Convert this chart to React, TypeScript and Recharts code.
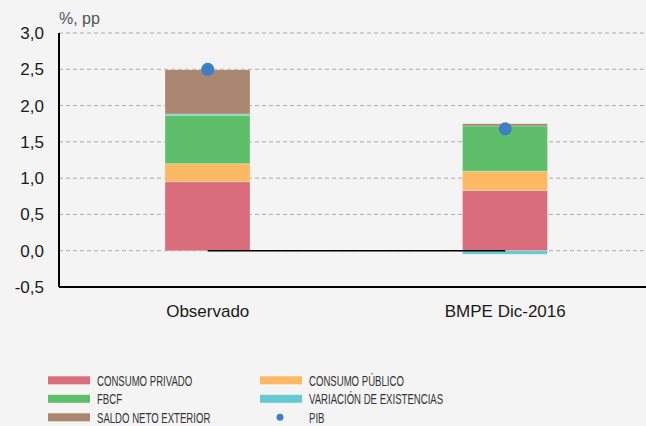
import React from 'react';
import {
  ComposedChart,
  Bar,
  Line,
  Scatter,
  XAxis,
  YAxis,
  CartesianGrid,
  ReferenceLine,
} from 'recharts';

const categories = ['Observado', 'BMPE Dic-2016'];
const consumoPrivado = [0.95, 0.83];
const consumoPublico = [0.25, 0.265];
const fbcf = [0.665, 0.625];
const variacionExistencias = [0.02, -0.05];
const saldoNetoExterior = [0.61, 0.03];
const pib = [2.5, 1.68];
const yTicks = [-0.5, 0, 0.5, 1, 1.5, 2, 2.5, 3];
const unitLabel = '%, pp';

const barSeries = [
  { key: 'cp', name: 'CONSUMO PRIVADO', color: '#d96d7b', values: consumoPrivado },
  { key: 'cpub', name: 'CONSUMO PÚBLICO', color: '#fcb862', values: consumoPublico },
  { key: 'fbcf', name: 'FBCF', color: '#5fbe6a', values: fbcf },
  { key: 've', name: 'VARIACIÓN DE EXISTENCIAS', color: '#66cad2', values: variacionExistencias },
  { key: 'sne', name: 'SALDO NETO EXTERIOR', color: '#a98770', values: saldoNetoExterior },
];
const pibSeries = { key: 'pib', name: 'PIB', color: '#3f7ec4', values: pib };

const data = categories.map((c, i) => {
  const row: Record<string, any> = { cat: c, zero: 0, pib: pib[i] };
  barSeries.forEach((s) => {
    row[s.key] = s.values[i];
  });
  return row;
});

// category boundaries for separator lines (between categories)
const separators = categories.slice(1).map((_, i) => i + 1);

const fmt = (v: number) => v.toFixed(1).replace('.', ',');

const FONT = '"Liberation Sans", Arial, Helvetica, sans-serif';
const NARROW = '"Liberation Sans Narrow", "Liberation Sans", Arial, sans-serif';

const legendItems = [
  ...barSeries.map((s) => ({ name: s.name, color: s.color, type: 'rect' })),
  { name: pibSeries.name, color: pibSeries.color, type: 'dot' },
];

function LegendOverlay() {
  return (
    <svg
      width={646}
      height={426}
      style={{ position: 'absolute', left: 0, top: 0, pointerEvents: 'none' }}
    >
      <text x={59} y={24} fontFamily={FONT} fontSize={16} fill="#555">
        {unitLabel}
      </text>
      {legendItems.map((it, i) => {
        const col = i % 2;
        const row = Math.floor(i / 2);
        const sx = col === 0 ? 48 : 260;
        const cy = 380.3 + row * 18.5;
        return (
          <g key={it.name}>
            {it.type === 'rect' ? (
              <rect x={sx} y={cy - 4} width={42} height={8} fill={it.color} />
            ) : (
              <circle cx={sx + 20} cy={cy} r={3.5} fill={it.color} />
            )}
            <g transform={`translate(${sx + 49},${cy + 5.2}) scale(0.64,1)`}>
              <text x={0} y={0} fontFamily={NARROW} fontSize={15} fill="#333">
                {it.name}
              </text>
            </g>
          </g>
        );
      })}
    </svg>
  );
}

const PibDot = (props: any) => {
  const { cx, cy } = props;
  if (cx == null || cy == null) return null;
  return <circle cx={cx} cy={cy} r={6.5} fill={pibSeries.color} />;
};

export default function App() {
  return (
    <div
      style={{
        position: 'absolute',
        left: 0,
        top: 0,
        width: 646,
        height: 426,
        overflow: 'hidden',
        background: '#f4f4f4',
      }}
    >
      <ComposedChart
        width={654}
        height={426}
        data={data}
        stackOffset="sign"
        margin={{ top: 33, right: 0, left: 0, bottom: 109 }}
        barSize={85}
      >
        <CartesianGrid
          vertical={false}
          stroke="#aaaaaa"
          strokeDasharray="4 3"
          strokeWidth={1}
        />
        <XAxis
          dataKey="cat"
          height={30}
          axisLine={{ stroke: '#000', strokeWidth: 2 }}
          tickLine={false}
          tickMargin={12}
          tick={{ fontFamily: FONT, fontSize: 17, fill: '#1a1a1a' }}
          interval={0}
        />
        <XAxis
          xAxisId="sep"
          type="number"
          domain={[0, categories.length]}
          hide
        />
        <YAxis
          width={59}
          domain={[-0.5, 3]}
          ticks={yTicks}
          interval={0}
          tickFormatter={fmt}
          axisLine={{ stroke: '#000', strokeWidth: 2 }}
          tickLine={false}
          tickMargin={9}
          tick={{ fontFamily: FONT, fontSize: 17, fill: '#1a1a1a' }}
        />
        {separators.map((s) => (
          <ReferenceLine
            key={s}
            xAxisId="sep"
            x={s}
            stroke="#a8a8a8"
            strokeWidth={1.5}
          />
        ))}
        {barSeries.map((s) => (
          <Bar
            key={s.key}
            dataKey={s.key}
            name={s.name}
            stackId="a"
            fill={s.color}
            stroke="#ffffff"
            strokeOpacity={0.25}
            strokeWidth={1}
            isAnimationActive={false}
          />
        ))}
        <Line
          dataKey="zero"
          stroke="#000"
          strokeWidth={1.5}
          dot={false}
          activeDot={false}
          isAnimationActive={false}
          legendType="none"
        />
        <Scatter
          dataKey="pib"
          name={pibSeries.name}
          fill={pibSeries.color}
          shape={PibDot}
          isAnimationActive={false}
        />
      </ComposedChart>
      <LegendOverlay />
    </div>
  );
}
